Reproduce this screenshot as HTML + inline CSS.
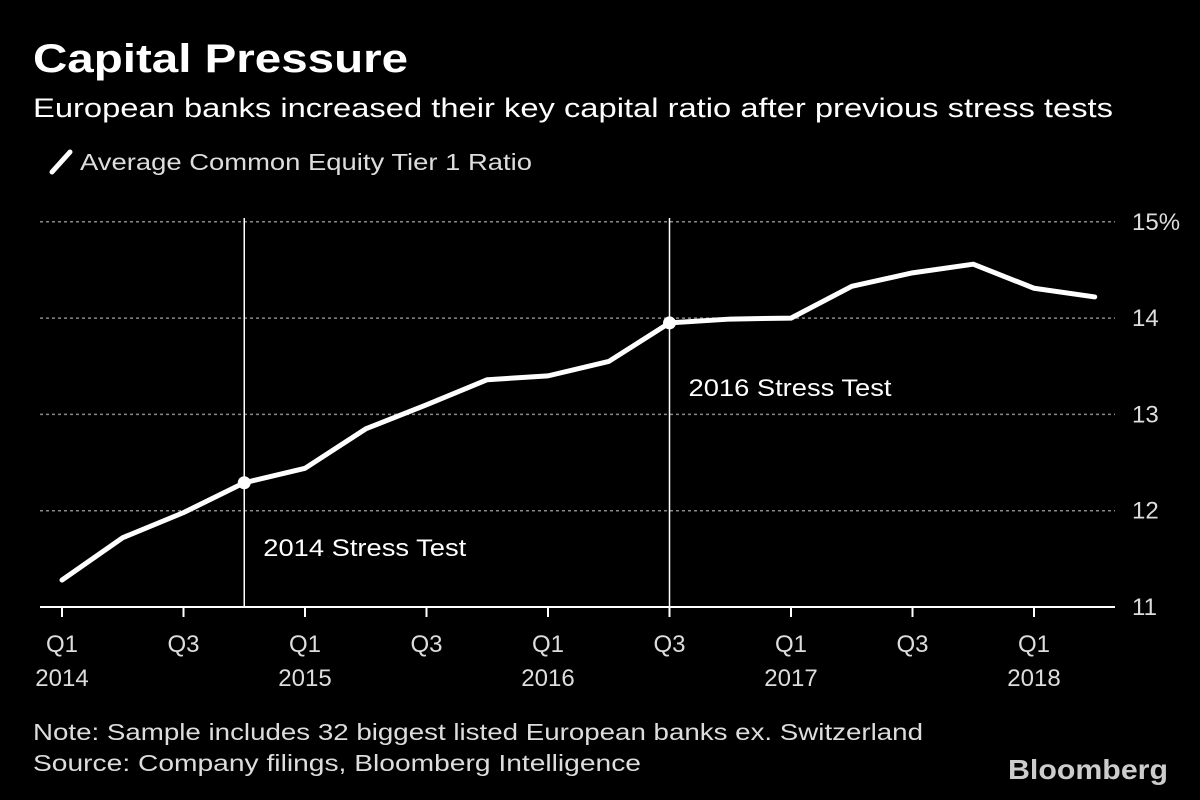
<!DOCTYPE html>
<html><head><meta charset="utf-8"><style>
html,body{margin:0;padding:0;background:#000;}
svg{display:block;font-family:"Liberation Sans","DejaVu Sans",sans-serif;}
</style></head><body>
<svg id="chart" width="1200" height="800" viewBox="0 0 1200 800">
<rect width="1200" height="800" fill="#000"/>
<text x="33" y="72" fill="#fff" font-size="40" font-weight="bold" textLength="375" lengthAdjust="spacingAndGlyphs">Capital Pressure</text>
<text x="33" y="117" fill="#fff" font-size="27" textLength="1080" lengthAdjust="spacingAndGlyphs">European banks increased their key capital ratio after previous stress tests</text>
<g>
<line x1="52" y1="172" x2="70" y2="152" stroke="#fff" stroke-width="5" stroke-linecap="round"/>
<text x="80" y="170" fill="#ddd" font-size="23" textLength="452" lengthAdjust="spacingAndGlyphs">Average Common Equity Tier 1 Ratio</text>
</g>
<g id="grid"></g><g id="axes"></g><g id="marks"></g>
<text x="33" y="740" fill="#ddd" font-size="23" textLength="890" lengthAdjust="spacingAndGlyphs">Note: Sample includes 32 biggest listed European banks ex. Switzerland</text>
<text x="33" y="771" fill="#ddd" font-size="23" textLength="608" lengthAdjust="spacingAndGlyphs">Source: Company filings, Bloomberg Intelligence</text>
<text x="1168" y="779" fill="#ccc" font-size="28" font-weight="bold" text-anchor="end" textLength="160" lengthAdjust="spacingAndGlyphs">Bloomberg</text>
</svg>
<script>
const quarters = ["Q1 2014","Q2 2014","Q3 2014","Q4 2014","Q1 2015","Q2 2015","Q3 2015","Q4 2015","Q1 2016","Q2 2016","Q3 2016","Q4 2016","Q1 2017","Q2 2017","Q3 2017","Q4 2017","Q1 2018","Q2 2018"];
const cet1 = [11.28,11.72,11.98,12.29,12.44,12.85,13.10,13.36,13.40,13.55,13.95,13.99,14.00,14.33,14.47,14.56,14.31,14.22];
const yTicks = [11,12,13,14,15];
const yTickLabels = ["11","12","13","14","15%"];
const xTickTop = ["Q1","Q3","Q1","Q3","Q1","Q3","Q1","Q3","Q1"];
const xTickBottom = ["2014","","2015","","2016","","2017","","2018"];
const stressTests = [{idx:3,label:"2014 Stress Test"},{idx:10,label:"2016 Stress Test"}];

const NS="http://www.w3.org/2000/svg";
const x = i => 62 + i*60.75;
const y = v => 607 - (v-11)*96.3;
function mk(parent,tag,attrs){const e=document.createElementNS(NS,tag);for(const k in attrs)e.setAttribute(k,attrs[k]);document.getElementById(parent).appendChild(e);return e;}

yTicks.forEach((t,i)=>{
  if(t>11){
    const g=mk('grid','line',{x1:40,x2:1115,y1:y(t),y2:y(t),stroke:'#888','stroke-width':1.5,'stroke-dasharray':'3,3'});
    
    
  }
  const l=mk('axes','text',{x:1132,y:y(t)+8,fill:'#ddd','font-size':24});
  l.textContent=yTickLabels[i];
  
  
});
const ax=mk('axes','line',{x1:40,x2:1115,y1:607,y2:607,stroke:'#fff','stroke-width':2});


xTickTop.forEach((t,k)=>{
  const i=k*2;
  const tk=mk('axes','line',{x1:x(i),x2:x(i),y1:607,y2:617,stroke:'#fff','stroke-width':2});
  
  
  const a=mk('axes','text',{x:x(i),y:652,fill:'#ddd','font-size':24,'text-anchor':'middle'});
  a.textContent=t;
  
  
  if(xTickBottom[k]){
    const b=mk('axes','text',{x:x(i),y:686,fill:'#ddd','font-size':24,'text-anchor':'middle'});
    b.textContent=xTickBottom[k];
    
    
  }
});
stressTests.forEach(s=>{
  const ln=mk('marks','line',{x1:x(s.idx),x2:x(s.idx),y1:218,y2:607,stroke:'#fff','stroke-width':1.5});
  
  
});
const path=mk('marks','polyline',{points:cet1.map((v,i)=>x(i)+','+y(v)).join(' '),fill:'none',stroke:'#fff','stroke-width':5,'stroke-linejoin':'round','stroke-linecap':'round'});


stressTests.forEach(s=>{
  const c=mk('marks','circle',{cx:x(s.idx),cy:y(cet1[s.idx]),r:6.5,fill:'#fff'});
  
  
  const t=mk('marks','text',{x:x(s.idx)+19,y:y(cet1[s.idx])+73,fill:'#fff','font-size':24,textLength:203,lengthAdjust:'spacingAndGlyphs'});
  t.textContent=s.label;
  
  
});
</script>
</body></html>
